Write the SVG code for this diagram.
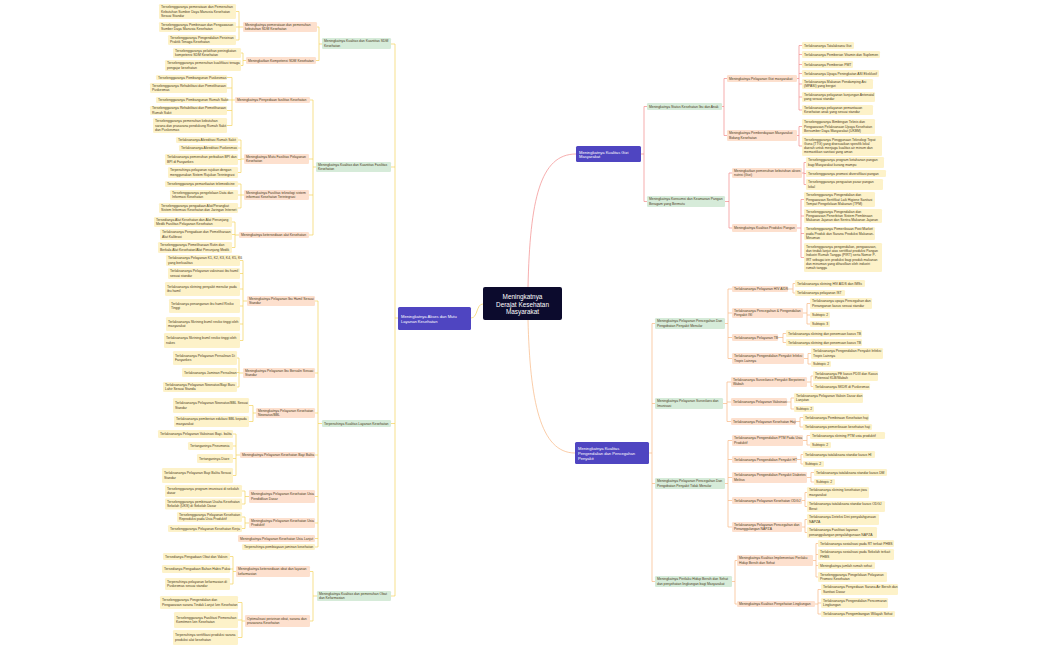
<svg xmlns="http://www.w3.org/2000/svg" width="1050" height="650" viewBox="0 0 1050 650">
<style>
text{font-family:"Liberation Sans",Arial,sans-serif;font-size:3.4px;fill:#4a3b1c;dominant-baseline:central}
.y{fill:#fdf2c9}.o{fill:#fde0ce}.g{fill:#d6ebd9}.p{fill:#4f45c1}.c{fill:#0c0b2d}
.w{fill:#fff;font-size:4.1px}
.cy,.cr,.co{fill:none;stroke-width:0.7}
.cy{stroke:#f3d35c}.cr{stroke:#f28b8b}.co{stroke:#f8b884}
</style>
<rect width="1050" height="650" fill="#fff"/>
<g id="connectors">
<path class="cy" d="M483,304 C476,304 478,318 471,318"/>
<path class="cr" d="M528,287 C530,200 540,154 576,154"/>
<path class="co" d="M528,320 C530,400 540,453 575,453"/>
<path class="cy" d="M398,318 H395 M395,44 V596 M395,44 H391 M395,167 H391 M395,423.5 H391 M395,596 H391"/>
<path class="cy" d="M322,44 H319 V27 H317 M319,44 V60.5 H316"/>
<path class="cy" d="M243,27 H239 M239,11.5 V40 M239,11.5 H236 M239,27 H236 M239,40 H236"/>
<path class="cy" d="M246,60.5 H243 M243,53 V65.5 M243,53 H241 M243,65.5 H241"/>
<path class="cy" d="M316,167 H313 M313,100 V235 M313,100 H310 M313,159 H309 M313,195 H309 M313,235 H309"/>
<path class="cy" d="M235,100 H232 M232,77.5 V125.5 M232,77.5 H227 M232,88 H227 M232,100 H227 M232,110.5 H227 M232,125.5 H227"/>
<path class="cy" d="M244,159 H241 M241,140 V172.5 M241,140 H238 M241,148 H238 M241,159.5 H238 M241,172.5 H238"/>
<path class="cy" d="M244,195 H241 M241,184 V208 M241,184 H238 M241,195 H238 M241,208 H238"/>
<path class="cy" d="M239,235 H235 M235,222 V247.5 M235,222 H232 M235,234.5 H232 M235,247.5 H232"/>
<path class="cy" d="M322,423.5 H318 M318,301 V547 M318,301 H315 M318,373 H315 M318,413 H315 M318,455 H315 M318,496.5 H315 M318,523 H315 M318,538.5 H315 M318,547 H315"/>
<path class="cy" d="M247,301 H243 M243,260.5 V340.5 M243,260.5 H240 M243,273.5 H240 M243,289 H240 M243,306 H240 M243,324 H240 M243,340.5 H240"/>
<path class="cy" d="M243,373 H239 M239,358 V387 M239,358 H237 M239,372.5 H237 M239,387 H237"/>
<path class="cy" d="M256,413 H253 M253,405.5 V421.5 M253,405.5 H249 M253,421.5 H249"/>
<path class="cy" d="M240,455 H236 M236,434 V475.5 M236,434 H233 M236,446 H233 M236,458.5 H233 M236,475.5 H233"/>
<path class="cy" d="M249,496.5 H245 M245,491 V504 M245,491 H242 M245,504 H242"/>
<path class="cy" d="M249,523 H245 M245,517 V528.5 M245,517 H242 M245,528.5 H242"/>
<path class="cy" d="M317,596 H313 M313,571.5 V621 M313,571.5 H310 M313,621 H310"/>
<path class="cy" d="M236,571.5 H233 M233,556.5 V584 M233,556.5 H230 M233,569 H230 M233,584 H230"/>
<path class="cy" d="M245,621 H242 M242,602.5 V637.5 M242,602.5 H238 M242,620 H238 M242,637.5 H238"/>
<path class="cr" d="M641,154 H644 M644,106.5 V201.5 M644,106.5 H647 M644,201.5 H647"/>
<path class="cr" d="M722,106.5 H724 M724,78.5 V135.5 M724,78.5 H727 M724,135.5 H727"/>
<path class="cr" d="M797,78.5 H799 M799,45.5 V110 M799,45.5 H802 M799,54.5 H802 M799,64.5 H802 M799,73.5 H802 M799,84 H802 M799,97 H802 M799,110 H802"/>
<path class="cr" d="M797,135.5 H799 M799,126.5 V146 M799,126.5 H802 M799,146 H802"/>
<path class="cr" d="M725,201.5 H729 M729,173 V228 M729,173 H732 M729,228 H732"/>
<path class="cr" d="M802,173 H804 M804,162.5 V184.5 M804,162.5 H806 M804,173.5 H806 M804,184.5 H806"/>
<path class="cr" d="M797,228 H801 M801,199.5 V257.5 M801,199.5 H804 M801,216 H804 M801,233.5 H804 M801,257.5 H804"/>
<path class="co" d="M649,453 H652 M652,323.5 V581.5 M652,323.5 H655 M652,403.5 H655 M652,483.5 H655 M652,581.5 H655"/>
<path class="co" d="M725,323.5 H728 M728,289 V358.5 M728,289 H732 M728,313 H732 M728,337.5 H732 M728,358.5 H732"/>
<path class="co" d="M788,289 H793 M793,283.5 V293 M793,283.5 H795 M793,293 H795"/>
<path class="co" d="M803,313 H807 M807,303.5 V324 M807,303.5 H810 M807,315 H810 M807,324 H810"/>
<path class="co" d="M778,337.5 H783 M783,333.5 V342.5 M783,333.5 H786 M783,342.5 H786"/>
<path class="co" d="M804,358.5 H808 M808,353.5 V364 M808,353.5 H811 M808,364 H811"/>
<path class="co" d="M723,403.5 H727 M727,382 V421.5 M727,382 H731 M727,402 H731 M727,421.5 H731"/>
<path class="co" d="M807,382 H811 M811,376 V386.5 M811,376 H813 M811,386.5 H813"/>
<path class="co" d="M787,402 H791 M791,398 V409 M791,398 H794 M791,409 H794"/>
<path class="co" d="M796,421.5 H800 M800,417.5 V427 M800,417.5 H803 M800,427 H803"/>
<path class="co" d="M725,483.5 H728 M728,440.5 V527 M728,440.5 H732 M728,459.5 H732 M728,477.5 H732 M728,500.5 H732 M728,527 H732"/>
<path class="co" d="M803,440.5 H807 M807,435.5 V445 M807,435.5 H810 M807,445 H810"/>
<path class="co" d="M797,459.5 H801 M801,454.5 V464 M801,454.5 H803 M801,464 H803"/>
<path class="co" d="M807,477.5 H811 M811,472.5 V482 M811,472.5 H814 M811,482 H814"/>
<path class="co" d="M802,500.5 H805 M805,492.5 V506.5 M805,492.5 H807 M805,506.5 H807"/>
<path class="co" d="M802,527 H805 M805,519.5 V532.5 M805,519.5 H807 M805,532.5 H807"/>
<path class="co" d="M732,581.5 H735 M735,560.5 V604 M735,560.5 H737 M735,604 H737"/>
<path class="co" d="M813,560.5 H816 M816,543.5 V577 M816,543.5 H818 M816,554.5 H818 M816,565.5 H818 M816,577 H818"/>
<path class="co" d="M815,604 H818 M818,589.5 V614 M818,589.5 H821 M818,603 H821 M818,614 H821"/>
</g>

<g id="center"><rect class="c" x="483" y="287" width="79" height="33" rx="2"/><text x="522.5" y="303.5" text-anchor="middle" style="fill:#fff;font-size:6.4px"><tspan x="522.5" dy="-7.6">Meningkatnya</tspan><tspan x="522.5" dy="7.6">Derajat Kesehatan</tspan><tspan x="522.5" dy="7.6">Masyarakat</tspan></text></g>
<g id="akses"><rect class="p" x="398" y="307" width="73" height="23" rx="1.5"/><text class="w" x="401" y="318.5"><tspan x="401" dy="-2.4">Meningkatnya Akses dan Mutu</tspan><tspan x="401" dy="4.8">Layanan Kesehatan</tspan></text></g>
<g id="gizi"><rect class="p" x="576" y="146" width="65" height="16" rx="1.5"/><text class="w" x="579" y="154"><tspan x="579" dy="-2.4">Meningkatnya Kualitas Gizi</tspan><tspan x="579" dy="4.8">Masyarakat</tspan></text></g>
<g id="penyakit"><rect class="p" x="575" y="442" width="74" height="22" rx="1.5"/><text class="w" x="578" y="453"><tspan x="578" dy="-4.8">Meningkatnya Kualitas</tspan><tspan x="578" dy="4.8">Pengendalian dan Pencegahan</tspan><tspan x="578" dy="4.8">Penyakit</tspan></text></g>

<g id="g1"><rect class="g" x="322" y="38" width="69" height="11" rx="1.2"/><text x="324" y="43.5"><tspan x="324" dy="-2.1">Meningkatnya Kualitas dan Kuantitas SDM</tspan><tspan x="324" dy="4.2">Kesehatan</tspan></text></g>
<g id="o1"><rect class="o" x="243" y="22" width="74" height="10" rx="1.2"/><text x="245" y="27"><tspan x="245" dy="-2.1">Meningkatnya pemerataan dan pemenuhan</tspan><tspan x="245" dy="4.2">kebutuhan SDM Kesehatan</tspan></text></g>
<g id="y1"><rect class="y" x="159" y="4" width="77" height="15" rx="1.2"/><text x="161" y="11.5"><tspan x="161" dy="-4.2">Terselenggaranya pemerataan dan Pemenuhan</tspan><tspan x="161" dy="4.2">Kebutuhan Sumber Daya Manusia Kesehatan</tspan><tspan x="161" dy="4.2">Sesuai Standar</tspan></text></g>
<g id="y2"><rect class="y" x="159" y="22" width="77" height="10" rx="1.2"/><text x="161" y="27"><tspan x="161" dy="-2.1">Terselenggaranya Pembinaan dan Pengawasan</tspan><tspan x="161" dy="4.2">Sumber Daya Manusia Kesehatan</tspan></text></g>
<g id="y3"><rect class="y" x="168" y="35" width="68" height="10" rx="1.2"/><text x="170" y="40"><tspan x="170" dy="-2.1">Terselenggaranya Pengendalian Perizinan</tspan><tspan x="170" dy="4.2">Praktik Tenaga Kesehatan</tspan></text></g>
<g id="o2"><rect class="o" x="246" y="57" width="70" height="7" rx="1.2"/><text x="248" y="60.5">Meningkatkan Kompetensi SDM Kesehatan</text></g>
<g id="y4"><rect class="y" x="173" y="48" width="68" height="10" rx="1.2"/><text x="175" y="53"><tspan x="175" dy="-2.1">Terselenggaranya pelatihan peningkatan</tspan><tspan x="175" dy="4.2">kompetensi SDM Kesehatan</tspan></text></g>
<g id="y5"><rect class="y" x="165" y="60" width="76" height="11" rx="1.2"/><text x="167" y="65.5"><tspan x="167" dy="-2.1">Terselenggaranya pemenuhan kualifikasi tenaga</tspan><tspan x="167" dy="4.2">pengajar kesehatan</tspan></text></g>

<g id="g2"><rect class="g" x="316" y="162" width="75" height="10" rx="1.2"/><text x="318" y="167"><tspan x="318" dy="-2.1">Meningkatnya Kualitas dan Kuantitas Fasilitas</tspan><tspan x="318" dy="4.2">Kesehatan</tspan></text></g>
<g id="o3"><rect class="o" x="235" y="97" width="75" height="6" rx="1.2"/><text x="237" y="100">Meningkatnya Penyediaan fasilitas Kesehatan</text></g>
<g id="y6"><rect class="y" x="156" y="75" width="71" height="5" rx="1.2"/><text x="158" y="77.5">Terselenggaranya Pembangunan Puskesmas</text></g>
<g id="y7"><rect class="y" x="150" y="83" width="77" height="10" rx="1.2"/><text x="152" y="88"><tspan x="152" dy="-2.1">Terselenggaranya Rehabilitasi dan Pemeliharaan</tspan><tspan x="152" dy="4.2">Puskesmas</tspan></text></g>
<g id="y8"><rect class="y" x="156" y="97" width="71" height="6" rx="1.2"/><text x="158" y="100">Terselenggaranya Pembangunan Rumah Sakit</text></g>
<g id="y9"><rect class="y" x="150" y="106" width="77" height="9" rx="1.2"/><text x="152" y="110.5"><tspan x="152" dy="-2.1">Terselenggaranya Rehabilitasi dan Pemeliharaan</tspan><tspan x="152" dy="4.2">Rumah Sakit</tspan></text></g>
<g id="y10"><rect class="y" x="153" y="118" width="74" height="15" rx="1.2"/><text x="155" y="125.5"><tspan x="155" dy="-4.2">Terselenggaranya pemenuhan kebutuhan</tspan><tspan x="155" dy="4.2">sarana dan prasarana pendukung Rumah Sakit</tspan><tspan x="155" dy="4.2">dan Puskesmas</tspan></text></g>
<g id="o4"><rect class="o" x="244" y="154" width="65" height="10" rx="1.2"/><text x="246" y="159"><tspan x="246" dy="-2.1">Meningkatnya Mutu Fasilitas Pelayanan</tspan><tspan x="246" dy="4.2">Kesehatan</tspan></text></g>
<g id="y11"><rect class="y" x="176" y="137" width="62" height="6" rx="1.2"/><text x="178" y="140">Terlaksananya Akreditasi Rumah Sakit</text></g>
<g id="y12"><rect class="y" x="179" y="145" width="59" height="6" rx="1.2"/><text x="181" y="148">Terlaksananya Akreditasi Puskesmas</text></g>
<g id="y13"><rect class="y" x="165" y="154" width="73" height="11" rx="1.2"/><text x="167" y="159.5"><tspan x="167" dy="-2.1">Terlaksananya pemenuhan perbaikan BPI dan</tspan><tspan x="167" dy="4.2">BPI di Fasyankes</tspan></text></g>
<g id="y14"><rect class="y" x="168" y="167" width="70" height="11" rx="1.2"/><text x="170" y="172.5"><tspan x="170" dy="-2.1">Terpenuhinya pelayanan rujukan dengan</tspan><tspan x="170" dy="4.2">menggunakan Sistem Rujukan Terintegrasi</tspan></text></g>
<g id="o5"><rect class="o" x="244" y="190" width="65" height="10" rx="1.2"/><text x="246" y="195"><tspan x="246" dy="-2.1">Meningkatnya Fasilitas teknologi sistem</tspan><tspan x="246" dy="4.2">informasi Kesehatan Terintegrasi</tspan></text></g>
<g id="y15"><rect class="y" x="165" y="181" width="73" height="6" rx="1.2"/><text x="167" y="184">Terselenggaranya pemanfaatan telemedicine</text></g>
<g id="y16"><rect class="y" x="170" y="190" width="68" height="10" rx="1.2"/><text x="172" y="195"><tspan x="172" dy="-2.1">Terselenggaranya pengelolaan Data dan</tspan><tspan x="172" dy="4.2">Informasi Kesehatan</tspan></text></g>
<g id="y17"><rect class="y" x="159" y="203" width="79" height="10" rx="1.2"/><text x="161" y="208"><tspan x="161" dy="-2.1">Terselenggaranya  pengadaan Alat/Perangkat</tspan><tspan x="161" dy="4.2">Sistem Informasi Kesehatan dan Jaringan Internet</tspan></text></g>
<g id="o6"><rect class="o" x="239" y="232" width="70" height="6" rx="1.2"/><text x="241" y="235">Meningkatnya ketersediaan alat Kesehatan</text></g>
<g id="y18"><rect class="y" x="154" y="217" width="78" height="10" rx="1.2"/><text x="156" y="222"><tspan x="156" dy="-2.1">Tersedianya Alat Kesehatan dan Alat Penunjang</tspan><tspan x="156" dy="4.2">Medik Fasilitas Pelayanan Kesehatan</tspan></text></g>
<g id="y19"><rect class="y" x="160" y="229" width="72" height="11" rx="1.2"/><text x="162" y="234.5"><tspan x="162" dy="-2.1">Terlaksananya Pengadaan dan Pemeliharaan</tspan><tspan x="162" dy="4.2">Alat Kalibrasi</tspan></text></g>
<g id="y20"><rect class="y" x="158" y="242" width="74" height="11" rx="1.2"/><text x="160" y="247.5"><tspan x="160" dy="-2.1">Terselenggaranya Pemeliharaan Rutin dan</tspan><tspan x="160" dy="4.2">Berkala Alat Kesehatan/Alat Penunjang Medik</tspan></text></g>

<g id="g3"><rect class="g" x="322" y="420" width="69" height="7" rx="1.2"/><text x="324" y="423.5">Terpenuhinya Kualitas Layanan Kesehatan</text></g>
<g id="o7"><rect class="o" x="247" y="296" width="68" height="10" rx="1.2"/><text x="249" y="301"><tspan x="249" dy="-2.1">Meningkatnya Pelayanan Ibu Hamil Sesuai</tspan><tspan x="249" dy="4.2">Standar</tspan></text></g>
<g id="y21"><rect class="y" x="166" y="255" width="74" height="11" rx="1.2"/><text x="168" y="260.5"><tspan x="168" dy="-2.1">Terlaksananya Pelayanan K1, K2, K3, K4, K5, K6</tspan><tspan x="168" dy="4.2">yang berkualitas</tspan></text></g>
<g id="y22"><rect class="y" x="168" y="268" width="72" height="11" rx="1.2"/><text x="170" y="273.5"><tspan x="170" dy="-2.1">Terlaksananya Pelayanan vaksinasi ibu hamil</tspan><tspan x="170" dy="4.2">sesuai standar</tspan></text></g>
<g id="y23"><rect class="y" x="165" y="282" width="75" height="14" rx="1.2"/><text x="167" y="289"><tspan x="167" dy="-2.1">Terlaksananya skrining penyakit menular pada</tspan><tspan x="167" dy="4.2">ibu hamil</tspan></text></g>
<g id="y24"><rect class="y" x="169" y="299" width="71" height="14" rx="1.2"/><text x="171" y="306"><tspan x="171" dy="-2.1">Terlaksanya penanganan ibu hamil  Risiko</tspan><tspan x="171" dy="4.2">Tinggi</tspan></text></g>
<g id="y25"><rect class="y" x="166" y="317" width="74" height="14" rx="1.2"/><text x="168" y="324"><tspan x="168" dy="-2.1">Terlaksananya Skrining bumil resiko tinggi oleh</tspan><tspan x="168" dy="4.2">masyarakat</tspan></text></g>
<g id="y26"><rect class="y" x="164" y="333" width="76" height="15" rx="1.2"/><text x="166" y="340.5"><tspan x="166" dy="-2.1">Terlaksananya Skrining bumil resiko tinggi oleh</tspan><tspan x="166" dy="4.2">nakes</tspan></text></g>
<g id="o8"><rect class="o" x="243" y="368" width="72" height="10" rx="1.2"/><text x="245" y="373"><tspan x="245" dy="-2.1">Meningkatnya Pelayanan Ibu Bersalin Sesuai</tspan><tspan x="245" dy="4.2">Standar</tspan></text></g>
<g id="y27"><rect class="y" x="173" y="351" width="64" height="14" rx="1.2"/><text x="175" y="358"><tspan x="175" dy="-2.1">Terlaksananya Pelayanan Persalinan Di</tspan><tspan x="175" dy="4.2">Fasyankes</tspan></text></g>
<g id="y28"><rect class="y" x="182" y="368" width="55" height="9" rx="1.2"/><text x="184" y="372.5">Terlaksananya Jaminan Persalinan</text></g>
<g id="y29"><rect class="y" x="163" y="382" width="74" height="10" rx="1.2"/><text x="165" y="387"><tspan x="165" dy="-2.1">Terlaksananya Pelayanan Neonatus/Bayi Baru</tspan><tspan x="165" dy="4.2">Lahir Sesuai Standa</tspan></text></g>
<g id="o9"><rect class="o" x="256" y="408" width="59" height="10" rx="1.2"/><text x="258" y="413"><tspan x="258" dy="-2.1">Meningkatnya Pelayanan Kesehatan</tspan><tspan x="258" dy="4.2">Neonatus/BBL</tspan></text></g>
<g id="y30"><rect class="y" x="173" y="398" width="76" height="15" rx="1.2"/><text x="175" y="405.5"><tspan x="175" dy="-2.1">Terlaksananya Pelayanan Neonatus/BBL Sesuai</tspan><tspan x="175" dy="4.2">Standar</tspan></text></g>
<g id="y31"><rect class="y" x="174" y="416" width="75" height="11" rx="1.2"/><text x="176" y="421.5"><tspan x="176" dy="-2.1">Terlaksananya pemberian edukasi BBL kepada</tspan><tspan x="176" dy="4.2">masyarakat</tspan></text></g>
<g id="o10"><rect class="o" x="240" y="452" width="75" height="6" rx="1.2"/><text x="242" y="455">Meningkatnya Pelayanan Kesehatan Bayi Balita</text></g>
<g id="y32"><rect class="y" x="158" y="430" width="75" height="8" rx="1.2"/><text x="160" y="434">Terlaksananya Pelayanan Vaksinasi Bayi- balita</text></g>
<g id="y33"><rect class="y" x="188" y="442" width="45" height="8" rx="1.2"/><text x="190" y="446">Tertanganinya Pneumonia</text></g>
<g id="y34"><rect class="y" x="197" y="454" width="36" height="9" rx="1.2"/><text x="199" y="458.5">Tertanganinya Diare</text></g>
<g id="y35"><rect class="y" x="162" y="468" width="71" height="15" rx="1.2"/><text x="164" y="475.5"><tspan x="164" dy="-2.1">Terlaksananya Pelayanan Bayi Balita Sesuai</tspan><tspan x="164" dy="4.2">Standar</tspan></text></g>
<g id="o11"><rect class="o" x="249" y="490" width="66" height="13" rx="1.2"/><text x="251" y="496.5"><tspan x="251" dy="-2.1">Meningkatnya Pelayanan Kesehatan Usia</tspan><tspan x="251" dy="4.2">Pendidikan Dasar</tspan></text></g>
<g id="y36"><rect class="y" x="165" y="485" width="77" height="12" rx="1.2"/><text x="167" y="491"><tspan x="167" dy="-2.1">Terselenggaranya program imunisasi di sekolah</tspan><tspan x="167" dy="4.2">dasar</tspan></text></g>
<g id="y37"><rect class="y" x="165" y="498.5" width="77" height="11" rx="1.2"/><text x="167" y="504"><tspan x="167" dy="-2.1">Terselenggaranya pembinaan Usaha Kesehatan</tspan><tspan x="167" dy="4.2">Sekolah (UKS) di Sekolah Dasar</tspan></text></g>
<g id="o12"><rect class="o" x="249" y="518" width="66" height="10" rx="1.2"/><text x="251" y="523"><tspan x="251" dy="-2.1">Meningkatnya Pelayanan Kesehatan Usia</tspan><tspan x="251" dy="4.2">Produktif</tspan></text></g>
<g id="y38"><rect class="y" x="177" y="512" width="65" height="10" rx="1.2"/><text x="179" y="517"><tspan x="179" dy="-2.1">Terselenggaranya Pelayanan Kesehatan</tspan><tspan x="179" dy="4.2">Reproduksi pada Usia Produktif</tspan></text></g>
<g id="y39"><rect class="y" x="168" y="525" width="74" height="7" rx="1.2"/><text x="170" y="528.5">Terselenggaranya Pelayanan Kesehatan Kerja</text></g>
<g id="o13"><rect class="o" x="238" y="535" width="77" height="7" rx="1.2"/><text x="240" y="538.5">Meningkatnya Pelayanan Kesehatan Usia Lanjut</text></g>
<g id="y40"><rect class="y" x="242" y="544" width="73" height="6" rx="1.2"/><text x="244" y="547">Terpenuhinya pembiayaan jaminan kesehatan</text></g>

<g id="g4"><rect class="g" x="317" y="591" width="74" height="10" rx="1.2"/><text x="319" y="596"><tspan x="319" dy="-2.1">Meningkatnya Kualitas dan pemenuhan Obat</tspan><tspan x="319" dy="4.2">dan Kefarmasian</tspan></text></g>
<g id="o14"><rect class="o" x="236" y="566" width="74" height="11" rx="1.2"/><text x="238" y="571.5"><tspan x="238" dy="-2.1">Meningkatnya ketersediaan obat dan layanan</tspan><tspan x="238" dy="4.2">kefarmasian</tspan></text></g>
<g id="y41"><rect class="y" x="163" y="553" width="67" height="7" rx="1.2"/><text x="165" y="556.5">Tersedianya Pengadaan Obat dan Vaksin</text></g>
<g id="y42"><rect class="y" x="162" y="565" width="68" height="8" rx="1.2"/><text x="164" y="569">Tersedianya Pengadaan Bahan Habis Pakai</text></g>
<g id="y43"><rect class="y" x="165" y="578" width="65" height="12" rx="1.2"/><text x="167" y="584"><tspan x="167" dy="-2.1">Terpenuhinya pelayanan kefarmasian di</tspan><tspan x="167" dy="4.2">Puskesmas sesuai standar</tspan></text></g>
<g id="o15"><rect class="o" x="245" y="615" width="65" height="12" rx="1.2"/><text x="247" y="621"><tspan x="247" dy="-2.1">Optimalisasi perizinan obat, sarana dan</tspan><tspan x="247" dy="4.2">prasarana Kesehatan</tspan></text></g>
<g id="y44"><rect class="y" x="160" y="596" width="78" height="13" rx="1.2"/><text x="162" y="602.5"><tspan x="162" dy="-2.1">Terselenggaranya Pengendalian dan</tspan><tspan x="162" dy="4.2">Pengawasan sarana Tindak Lanjut Izin Kesehatan</tspan></text></g>
<g id="y45"><rect class="y" x="174" y="612" width="64" height="16" rx="1.2"/><text x="176" y="620"><tspan x="176" dy="-2.1">Terselenggaranya Fasilitasi Pemenuhan</tspan><tspan x="176" dy="4.2">Komitmen Izin Kesehatan</tspan></text></g>
<g id="y46"><rect class="y" x="173" y="630" width="65" height="15" rx="1.2"/><text x="175" y="637.5"><tspan x="175" dy="-2.1">Terpenuhinya sertifikasi produksi sarana</tspan><tspan x="175" dy="4.2">produksi alat kesehatan</tspan></text></g>

<g id="g5"><rect class="g" x="647" y="103" width="75" height="7" rx="1.2"/><text x="649" y="106.5">Meningkatnya Status Kesehatan Ibu dan Anak</text></g>
<g id="o16"><rect class="o" x="727" y="75" width="70" height="7" rx="1.2"/><text x="729" y="78.5">Meningkatnya Pelayanan Gizi masyarakat</text></g>
<g id="r1"><rect class="y" x="802" y="42" width="52" height="7" rx="1.2"/><text x="804" y="45.5">Terlaksananya Tatalaksana Gizi</text></g>
<g id="r2"><rect class="y" x="802" y="51" width="78" height="7" rx="1.2"/><text x="804" y="54.5">Terlaksananya Pemberian Vitamin dan Suplemen</text></g>
<g id="r3"><rect class="y" x="802" y="61" width="51" height="7" rx="1.2"/><text x="804" y="64.5">Terlaksananya Pemberian PMT</text></g>
<g id="r4"><rect class="y" x="802" y="70" width="77" height="7" rx="1.2"/><text x="804" y="73.5">Terlaksananya Upaya Peningkatan ASI Eksklusif</text></g>
<g id="r5"><rect class="y" x="802" y="79" width="71" height="10" rx="1.2"/><text x="804" y="84"><tspan x="804" dy="-2.1">Terlaksananya Makanan Pendamping Asi</tspan><tspan x="804" dy="4.2">(MPASI) yang bergizi</tspan></text></g>
<g id="r6"><rect class="y" x="802" y="92" width="73" height="10" rx="1.2"/><text x="804" y="97"><tspan x="804" dy="-2.1">Terlaksananya pelayanan kunjungan Antenatal</tspan><tspan x="804" dy="4.2">yang sesuai standar</tspan></text></g>
<g id="r7"><rect class="y" x="802" y="105" width="71" height="10" rx="1.2"/><text x="804" y="110"><tspan x="804" dy="-2.1">Terlaksananya pelayanan pemantauan</tspan><tspan x="804" dy="4.2">Kesehatan anak yang sesuai standar</tspan></text></g>
<g id="o17"><rect class="o" x="727" y="130" width="70" height="11" rx="1.2"/><text x="729" y="135.5"><tspan x="729" dy="-2.1">Meningkatnya Pemberdayaan Masyarakat</tspan><tspan x="729" dy="4.2">Bidang Kesehatan</tspan></text></g>
<g id="r8"><rect class="y" x="802" y="119" width="73" height="15" rx="1.2"/><text x="804" y="126.5"><tspan x="804" dy="-4.2">Terselenggaranya Bimbingan Teknis dan</tspan><tspan x="804" dy="4.2">Pengawasan Pelaksanaan Upaya Kesehatan</tspan><tspan x="804" dy="4.2">Bersumber Daya Masyarakat (UKBM)</tspan></text></g>
<g id="r9"><rect class="y" x="802" y="136" width="80" height="20" rx="1.2"/><text x="804" y="146"><tspan x="804" dy="-6.3">Terselenggaranya Penggunaan Teknologi Tepat</tspan><tspan x="804" dy="4.2">Guna (TTG) yang disesuaikan spesifik lokal</tspan><tspan x="804" dy="4.2">daerah untuk menjaga kualitas air minum dan</tspan><tspan x="804" dy="4.2">memastikan sanitasi yang aman</tspan></text></g>
<g id="g6"><rect class="g" x="647" y="196" width="78" height="11" rx="1.2"/><text x="649" y="201.5"><tspan x="649" dy="-2.1">Meningkatnya Konsumsi dan Keamanan Pangan</tspan><tspan x="649" dy="4.2">Beragam yang Bermutu</tspan></text></g>
<g id="o18"><rect class="o" x="732" y="168" width="70" height="10" rx="1.2"/><text x="734" y="173"><tspan x="734" dy="-2.1">Meningkatkan pemenuhan kebutuhan akses</tspan><tspan x="734" dy="4.2">nutrisi (Gizi)</tspan></text></g>
<g id="r10"><rect class="y" x="806" y="157" width="78" height="11" rx="1.2"/><text x="808" y="162.5"><tspan x="808" dy="-2.1">Terselenggaranya program ketahanan pangan</tspan><tspan x="808" dy="4.2">bagi Masyarakat kurang mampu</tspan></text></g>
<g id="r11"><rect class="y" x="806" y="170" width="80" height="7" rx="1.2"/><text x="808" y="173.5">Terselenggaranya promosi  diversifikasi pangan</text></g>
<g id="r12"><rect class="y" x="806" y="179" width="77" height="11" rx="1.2"/><text x="808" y="184.5"><tspan x="808" dy="-2.1">Terselenggaranya penguatan pasar pangan</tspan><tspan x="808" dy="4.2">lokal</tspan></text></g>
<g id="o19"><rect class="o" x="732" y="224" width="65" height="8" rx="1.2"/><text x="734" y="228">Meningkatnya Kualitas Produksi Pangan</text></g>
<g id="r13"><rect class="y" x="804" y="192" width="71" height="15" rx="1.2"/><text x="806" y="199.5"><tspan x="806" dy="-4.2">Terselenggaranya Pengendalian dan</tspan><tspan x="806" dy="4.2">Pengawasan Sertifikat Laik Higiene Sanitasi</tspan><tspan x="806" dy="4.2">Tempat Pengelolaan Makanan (TPM)</tspan></text></g>
<g id="r14"><rect class="y" x="804" y="209" width="78" height="14" rx="1.2"/><text x="806" y="216"><tspan x="806" dy="-4.2">Terselenggaranya Pengendalian dan</tspan><tspan x="806" dy="4.2">Pengawasan Penerbitan Sistem Pembinaan</tspan><tspan x="806" dy="4.2">Makanan  Jajanan  dan  Sentra  Makanan Jajanan</tspan></text></g>
<g id="r15"><rect class="y" x="804" y="227" width="71" height="13" rx="1.2"/><text x="806" y="233.5"><tspan x="806" dy="-4.2">Terselenggaranya Pemeriksaan Post Market</tspan><tspan x="806" dy="4.2">pada Produk dan Sarana Produksi Makanan-</tspan><tspan x="806" dy="4.2">Minuman</tspan></text></g>
<g id="r16"><rect class="y" x="804" y="243" width="78" height="29" rx="1.2"/><text x="806" y="257.5"><tspan x="806" dy="-10.5">Terselenggaranya pengendalian, pengawasan,</tspan><tspan x="806" dy="4.2">dan tindak lanjut atas sertifikat produksi Pangan</tspan><tspan x="806" dy="4.2">Industri Rumah Tangga (PIRT) serta Nomor P-</tspan><tspan x="806" dy="4.2">IRT sebagai izin produksi bagi produk makanan</tspan><tspan x="806" dy="4.2">dan minuman yang dihasilkan oleh industri</tspan><tspan x="806" dy="4.2">rumah tangga</tspan></text></g>

<g id="g7"><rect class="g" x="655" y="318" width="70" height="11" rx="1.2"/><text x="657" y="323.5"><tspan x="657" dy="-2.1">Meningkatnya Pelayanan Pencegahan Dan</tspan><tspan x="657" dy="4.2">Pengobatan Penyakit Menular</tspan></text></g>
<g id="o20"><rect class="o" x="732" y="286" width="56" height="6" rx="1.2"/><text x="734" y="289">Terlaksananya Pelayanan HIV AIDS</text></g>
<g id="s1"><rect class="y" x="795" y="280" width="70" height="7" rx="1.2"/><text x="797" y="283.5">Terlaksananya  skrining HIV AIDS dan IMSs</text></g>
<g id="s2"><rect class="y" x="795" y="290" width="50" height="6" rx="1.2"/><text x="797" y="293">Terlaksananya pelayanan IST</text></g>
<g id="o21"><rect class="o" x="732" y="308" width="71" height="10" rx="1.2"/><text x="734" y="313"><tspan x="734" dy="-2.1">Terlaksananya Pencegahan &amp; Pengendalian</tspan><tspan x="734" dy="4.2">Penyakit ISI</tspan></text></g>
<g id="s3"><rect class="y" x="810" y="298" width="62" height="11" rx="1.2"/><text x="812" y="303.5"><tspan x="812" dy="-2.1">Terlaksananya upaya Pencegahan dan</tspan><tspan x="812" dy="4.2">Penanganan kasus sesuai standar</tspan></text></g>
<g id="s4"><rect class="y" x="810" y="312" width="20" height="6" rx="1.2"/><text x="812" y="315">Subtopic 2</text></g>
<g id="s5"><rect class="y" x="810" y="321" width="20" height="6" rx="1.2"/><text x="812" y="324">Subtopic 3</text></g>
<g id="o22"><rect class="o" x="732" y="334" width="46" height="7" rx="1.2"/><text x="734" y="337.5">Terlaksananya Pelayanan TB</text></g>
<g id="s6"><rect class="y" x="786" y="330" width="76" height="7" rx="1.2"/><text x="788" y="333.5">Terlaksananya skrining dan penemuan kasus TB</text></g>
<g id="s7"><rect class="y" x="786" y="339" width="76" height="7" rx="1.2"/><text x="788" y="342.5">Terlaksananya skrining dan penemuan kasus TB</text></g>
<g id="o23"><rect class="o" x="732" y="353" width="72" height="11" rx="1.2"/><text x="734" y="358.5"><tspan x="734" dy="-2.1">Terlaksananya Pengendalian Penyakit Infeksi</tspan><tspan x="734" dy="4.2">Tropis Lainnya</tspan></text></g>
<g id="s8"><rect class="y" x="811" y="348" width="72" height="11" rx="1.2"/><text x="813" y="353.5"><tspan x="813" dy="-2.1">Terlaksananya Pengendalian Penyakit Infeksi</tspan><tspan x="813" dy="4.2">Tropis Lainnya</tspan></text></g>
<g id="s9"><rect class="y" x="811" y="361" width="20" height="6" rx="1.2"/><text x="813" y="364">Subtopic 2</text></g>

<g id="g8"><rect class="g" x="655" y="398" width="68" height="11" rx="1.2"/><text x="657" y="403.5"><tspan x="657" dy="-2.1">Meningkatnya Pelayanan Surveilans dan</tspan><tspan x="657" dy="4.2">Imunisasi</tspan></text></g>
<g id="o24"><rect class="o" x="731" y="377" width="76" height="10" rx="1.2"/><text x="733" y="382"><tspan x="733" dy="-2.1">Terlaksananya Surveilance Penyakit Berpotensi</tspan><tspan x="733" dy="4.2">Wabah</tspan></text></g>
<g id="s10"><rect class="y" x="813" y="371" width="65" height="10" rx="1.2"/><text x="815" y="376"><tspan x="815" dy="-2.1">Terlaksananya PE kasus PD3I dan Kasus</tspan><tspan x="815" dy="4.2">Potensial KLB/Wabah</tspan></text></g>
<g id="s11"><rect class="y" x="813" y="383" width="57" height="7" rx="1.2"/><text x="815" y="386.5">Terlaksananya SKDR di Puskesmas</text></g>
<g id="o25"><rect class="o" x="731" y="398" width="56" height="8" rx="1.2"/><text x="733" y="402">Terlaksananya Pelayanan Vaksinasi</text></g>
<g id="s12"><rect class="y" x="794" y="393" width="69" height="10" rx="1.2"/><text x="796" y="398"><tspan x="796" dy="-2.1">Terlaksananya Pelayanan Vaksin Dasar dan</tspan><tspan x="796" dy="4.2">Lanjutan</tspan></text></g>
<g id="s13"><rect class="y" x="794" y="406" width="20" height="6" rx="1.2"/><text x="796" y="409">Subtopic 2</text></g>
<g id="o26"><rect class="o" x="731" y="418" width="65" height="7" rx="1.2"/><text x="733" y="421.5">Terlaksananya Pelayanan Kesehatan Haji</text></g>
<g id="s14"><rect class="y" x="803" y="414" width="66" height="7" rx="1.2"/><text x="805" y="417.5">Terlaksananya Pembinaan Kesehatan haji</text></g>
<g id="s15"><rect class="y" x="803" y="424" width="69" height="6" rx="1.2"/><text x="805" y="427">Terlaksananya pemeriksaan kesehatan  haji</text></g>

<g id="g9"><rect class="g" x="655" y="478" width="70" height="11" rx="1.2"/><text x="657" y="483.5"><tspan x="657" dy="-2.1">Meningkatnya Pelayanan Pencegahan Dan</tspan><tspan x="657" dy="4.2">Pengobatan  Penyakit Tidak Menular</tspan></text></g>
<g id="o27"><rect class="o" x="732" y="435" width="71" height="11" rx="1.2"/><text x="734" y="440.5"><tspan x="734" dy="-2.1">Terlaksananya Pengendalian PTM Pada Usia</tspan><tspan x="734" dy="4.2">Produktif</tspan></text></g>
<g id="s16"><rect class="y" x="810" y="432" width="75" height="7" rx="1.2"/><text x="812" y="435.5">Terlaksananya skrining PTM usia produktif</text></g>
<g id="s17"><rect class="y" x="810" y="442" width="21" height="6" rx="1.2"/><text x="812" y="445">Subtopic 2</text></g>
<g id="o28"><rect class="o" x="732" y="456" width="65" height="7" rx="1.2"/><text x="734" y="459.5">Terlaksananya Pengendalian Penyakit HT</text></g>
<g id="s18"><rect class="y" x="803" y="451" width="72" height="7" rx="1.2"/><text x="805" y="454.5">Terlaksananya tatalaksana standar kasus HI</text></g>
<g id="s19"><rect class="y" x="803" y="461" width="21" height="6" rx="1.2"/><text x="805" y="464">Subtopic 2</text></g>
<g id="o29"><rect class="o" x="732" y="472" width="75" height="11" rx="1.2"/><text x="734" y="477.5"><tspan x="734" dy="-2.1">Terlaksananya Pengendalian Penyakit Diabetes</tspan><tspan x="734" dy="4.2">Melitus</tspan></text></g>
<g id="s20"><rect class="y" x="814" y="469" width="73" height="7" rx="1.2"/><text x="816" y="472.5">Terlaksananya tatalaksana standar kasus DM</text></g>
<g id="s21"><rect class="y" x="814" y="479" width="21" height="6" rx="1.2"/><text x="816" y="482">Subtopic 2</text></g>
<g id="o30"><rect class="o" x="732" y="497" width="70" height="7" rx="1.2"/><text x="734" y="500.5">Terlaksananya Pelayanan Kesehatan ODGJ</text></g>
<g id="s22"><rect class="y" x="807" y="487" width="62" height="11" rx="1.2"/><text x="809" y="492.5"><tspan x="809" dy="-2.1">Terlaksananya skrining kesehatan jiwa</tspan><tspan x="809" dy="4.2">masyarakat</tspan></text></g>
<g id="s23"><rect class="y" x="807" y="501" width="78" height="11" rx="1.2"/><text x="809" y="506.5"><tspan x="809" dy="-2.1">Terlaksananya tatalaksana standar kasus ODGJ</tspan><tspan x="809" dy="4.2">Berat</tspan></text></g>
<g id="o31"><rect class="o" x="732" y="522" width="70" height="10" rx="1.2"/><text x="734" y="527"><tspan x="734" dy="-2.1">Terlaksananya Pelayanan Pencegahan dan</tspan><tspan x="734" dy="4.2">Penanggulangan NAPZA</tspan></text></g>
<g id="s24"><rect class="y" x="807" y="514" width="72" height="11" rx="1.2"/><text x="809" y="519.5"><tspan x="809" dy="-2.1">Terlaksananya Deteksi Dini penyalahgunaan</tspan><tspan x="809" dy="4.2">NAPZA</tspan></text></g>
<g id="s25"><rect class="y" x="807" y="527" width="70" height="11" rx="1.2"/><text x="809" y="532.5"><tspan x="809" dy="-2.1">Terlaksananya Fasilitasi layanan</tspan><tspan x="809" dy="4.2">penanggulangan penyalahgunaan NAPZA</tspan></text></g>

<g id="g10"><rect class="g" x="655" y="576" width="77" height="11" rx="1.2"/><text x="657" y="581.5"><tspan x="657" dy="-2.1">Meningkatnya Perilaku Hidup Bersih dan Sehat</tspan><tspan x="657" dy="4.2">dan penyehatan lingkungan bagi Masyarakat</tspan></text></g>
<g id="o32"><rect class="o" x="737" y="555" width="76" height="11" rx="1.2"/><text x="739" y="560.5"><tspan x="739" dy="-2.1">Meningkatnya Kualitas Implementasi Perilaku</tspan><tspan x="739" dy="4.2">Hidup Bersih dan Sehat</tspan></text></g>
<g id="s26"><rect class="y" x="818" y="540" width="76" height="7" rx="1.2"/><text x="820" y="543.5">Terlaksananya sosialisasi pada RT terkait PHBS</text></g>
<g id="s27"><rect class="y" x="818" y="549" width="76" height="11" rx="1.2"/><text x="820" y="554.5"><tspan x="820" dy="-2.1">Terlaksananya sosialisasi pada Sekolah terkait</tspan><tspan x="820" dy="4.2">PHBS</tspan></text></g>
<g id="s28"><rect class="y" x="818" y="562" width="57" height="7" rx="1.2"/><text x="820" y="565.5">Meningkatnya jumlah rumah sehat</text></g>
<g id="s29"><rect class="y" x="818" y="572" width="69" height="10" rx="1.2"/><text x="820" y="577"><tspan x="820" dy="-2.1">Terselenggaranya Pengelolaan Pelayanan</tspan><tspan x="820" dy="4.2">Promosi Kesehatan</tspan></text></g>
<g id="o33"><rect class="o" x="737" y="601" width="78" height="6" rx="1.2"/><text x="739" y="604">Meningkatnya Kualitas Penyehatan Lingkungan</text></g>
<g id="s30"><rect class="y" x="821" y="584" width="77" height="11" rx="1.2"/><text x="823" y="589.5"><tspan x="823" dy="-2.1">Terlaksananya Penyediaan Sarana Air Bersih dan</tspan><tspan x="823" dy="4.2">Sanitasi Dasar</tspan></text></g>
<g id="s31"><rect class="y" x="821" y="598" width="67" height="10" rx="1.2"/><text x="823" y="603"><tspan x="823" dy="-2.1">Terlaksananya Pengendalian Pencemaran</tspan><tspan x="823" dy="4.2">Lingkungan</tspan></text></g>
<g id="s32"><rect class="y" x="821" y="611" width="74" height="6" rx="1.2"/><text x="823" y="614">Terlaksananya Pengembangan Wilayah Sehat</text></g>
</svg>
